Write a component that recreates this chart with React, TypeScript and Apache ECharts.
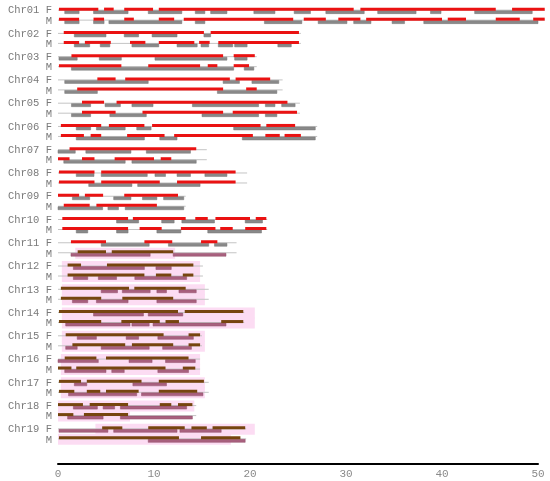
import React, { useEffect, useRef } from 'react';
import * as echarts from 'echarts';

const chromosomes = ['Chr01','Chr02','Chr03','Chr04','Chr05','Chr06','Chr07','Chr08','Chr09','Chr10','Chr11','Chr12','Chr13','Chr14','Chr15','Chr16','Chr17','Chr18','Chr19'];
const chromLengths = [50.7,25.3,20.7,23.4,25.2,27.0,15.5,19.7,13.3,21.8,18.6,15.1,15.7,19.4,15.0,14.8,15.7,14.4,19.6];

const femaleUpper: number[][][] = [
  [[0.1,4.2],[4.8,5.8],[6.9,9.9],[10.5,30.8],[31.5,45.6],[47.3,50.7]],
  [[0.6,15.2],[15.9,25.1]],
  [[1.4,17.2],[18.3,20.5]],
  [[4.1,6.0],[7.0,17.9],[18.5,22.1]],
  [[2.5,4.8],[6.1,23.9]],
  [[0.3,4.5],[5.3,9.0],[9.8,21.1],[21.7,24.7]],
  [[1.2,14.4]],
  [[0.1,3.8],[4.5,18.5]],
  [[0,2.2],[2.8,4.7],[6.9,12.5]],
  [[0.45,7.3],[7.8,13.3],[14.3,15.6],[16.4,20.0],[20.6,21.7]],
  [[1.35,5.0],[9.0,11.9],[14.9,16.6]],
  [[1.0,2.4],[5.1,14.1]],
  [[0.3,7.4],[7.95,13.3]],
  [[0.1,12.5],[13.2,19.3]],
  [[0.8,11.0],[13.6,14.8]],
  [[0.7,4.0],[5.0,13.6]],
  [[0.1,2.4],[3.0,8.7],[10.5,15.2]],
  [[0,2.6],[3.3,7.3],[10.6,11.8],[12.5,14.0]],
  [[4.6,6.7],[9.4,13.2],[13.9,15.5],[16.1,19.5]],
];
const femaleLower: number[][][] = [
  [[0.7,2.2],[3.7,7.3],[9.4,12.9],[14.3,15.3],[15.9,17.6],[20.4,22.6],[24.6,26.3],[27.9,31.9],[33.3,37.3],[38.8,39.9],[43.4,49.4]],
  [[1.7,5.0],[6.9,8.4],[9.8,12.4],[15.2,15.9]],
  [[0.1,2.0],[4.3,6.6],[10.1,17.6],[18.4,19.7]],
  [[0.7,9.4],[17.2,18.9],[20.2,23.0]],
  [[1.4,3.4],[4.9,6.5],[7.7,9.9],[14.0,20.9],[21.6,22.6],[23.3,24.7]],
  [[1.9,3.4],[4.0,7.0],[8.2,9.7],[18.3,26.8]],
  [[0,1.8],[2.9,7.6],[9.2,13.8]],
  [[1.9,3.75],[4.5,9.3],[10.1,11.2],[12.4,13.8],[15.3,17.6]],
  [[1.5,3.3],[5.8,7.6],[8.8,10.3],[11.0,13.1]],
  [[6.1,8.4],[10.8,12.1],[12.9,16.3],[19.5,21.3]],
  [[4.5,9.5],[11.5,15.7],[16.3,17.6]],
  [[1.6,9.0],[10.2,11.8]],
  [[4.5,6.2],[6.7,9.6],[10.3,11.3],[12.6,14.4]],
  [[3.7,8.9],[9.4,13.0]],
  [[2.0,4.0],[7.1,8.4],[10.4,14.1]],
  [[0,4.2],[7.4,9.8],[11.2,14.3]],
  [[1.7,3.0],[7.8,11.3]],
  [[1.6,4.1],[4.7,5.9],[6.5,13.4]],
  [[0.1,5.2],[5.8,12.4],[12.7,17.0]],
];
const maleUpper: number[][][] = [
  [[0.1,2.2],[3.7,4.8],[6.9,7.9],[10.5,12.1],[13.1,24.5],[25.6,27.9],[29.2,31.5],[32.1,40.0],[40.6,42.5],[45.6,48.1],[49.5,50.7]],
  [[0.6,2.2],[2.8,5.5],[7.5,9.1],[10.5,14.2],[14.7,15.8],[16.7,25.1]],
  [[0.1,6.6],[9.4,14.8],[15.6,16.6],[18.3,19.9]],
  [[2.0,17.2],[19.6,20.7]],
  [[2.5,6.0],[8.8,17.2],[18.2,24.9]],
  [[0.3,2.7],[3.4,4.5],[7.2,11.1],[12.1,20.3],[21.6,23.1],[23.6,25.3]],
  [[0,1.2],[2.5,3.8],[5.9,10.0],[10.7,11.8]],
  [[0.1,3.8],[4.5,10.6],[12.4,18.5]],
  [[0.6,3.3],[4.0,10.3]],
  [[0.45,7.3],[8.5,10.8],[12.8,16.4],[16.9,18.2],[19.5,21.7]],
  [[2.05,5.0],[5.6,12.0]],
  [[1.0,9.0],[10.2,11.8],[13.0,14.1]],
  [[0.3,4.5],[6.7,12.0]],
  [[0.1,4.5],[6.6,10.6],[11.2,12.6],[17.0,19.3]],
  [[1.5,7.0],[7.7,12.0],[13.6,14.8]],
  [[0,1.4],[1.9,11.2],[13.0,14.3]],
  [[0.1,1.7],[3.0,4.4],[5.0,8.4],[10.5,14.5]],
  [[0,1.6],[2.7,7.3]],
  [[0.1,12.6],[14.9,19.0]],
];
const maleLower: number[][][] = [
  [[0.7,2.2],[3.7,4.8],[5.3,12.9],[14.3,15.3],[21.5,25.4],[27.1,30.1],[30.8,32.6],[34.8,36.1],[38.1,50.0]],
  [[1.7,3.3],[4.4,5.4],[7.7,10.5],[12.4,14.5],[14.9,15.7],[16.7,18.2],[18.4,19.7],[22.9,24.3]],
  [[1.4,18.3],[19.4,20.4]],
  [[0.7,4.1],[16.6,22.8]],
  [[1.4,3.4],[5.4,9.2],[15.0,20.9],[21.6,22.8]],
  [[1.9,9.0],[10.6,12.4],[19.2,26.8]],
  [[0.6,7.0],[7.7,14.4]],
  [[3.2,7.7],[8.3,14.8]],
  [[0,4.65],[5.2,6.3],[7.0,13.1]],
  [[1.9,3.1],[6.1,7.3],[10.3,12.8],[15.6,21.2]],
  [[1.35,9.6],[12.0,17.5]],
  [[1.6,3.1],[4.2,6.1],[8.0,13.4]],
  [[1.5,3.1],[4.0,7.3],[10.3,14.4]],
  [[0.8,7.5],[7.7,9.5],[9.9,17.5]],
  [[0.8,2.0],[4.5,9.5],[10.9,13.9]],
  [[0.7,5.0],[5.6,6.9],[10.4,13.6]],
  [[1.1,8.2],[8.7,15.1]],
  [[1.0,4.7],[6.5,14.0]],
  [[9.4,19.5]],
];
const femaleHighlight: (number[] | null)[] = [null,null,null,null,null,null,null,null,null,null,null,
  [0.4,14.8],[0.4,15.3],[0.4,20.5],[0.4,15.3],[0.3,14.8],[0.3,15.3],[0,14.2],[3.9,20.5]];
const maleHighlight: (number[] | null)[] = [null,null,null,null,null,null,null,null,null,null,[1.8,12.2],
  [0.4,14.8],[0.4,15.3],[0.4,20.5],[0.4,15.3],[0.3,14.8],[0.3,15.3],[0,7.5],[0,18.0]];

const FONT = '"Liberation Mono", "DejaVu Sans Mono", monospace';

function isHighlighted(chr: number, sex: number) {
  return (sex === 0 ? femaleHighlight[chr] : maleHighlight[chr]) != null;
}

function makeRender(layer: number) {
  return (params: any, api: any) => {
    const chr = api.value(0);
    const sex = api.value(1);
    const s = api.value(2);
    const e = api.value(3);
    const p0 = api.coord([s, chr]);
    const p1 = api.coord([e, chr]);
    const rowY = p0[1] + (sex === 0 ? -5 : 5);
    const hl = isHighlighted(chr, sex);
    if (layer === 0) {
      return { type: 'rect', shape: { x: p0[0], y: rowY - 5.5, width: p1[0] - p0[0], height: 11 }, style: { fill: '#fcdcf3' } };
    }
    if (layer === 1) {
      return { type: 'line', shape: { x1: p0[0], y1: rowY - 0.5, x2: p1[0], y2: rowY - 0.5 }, style: { stroke: '#c4c4c4', lineWidth: 1 } };
    }
    if (layer === 2) {
      return { type: 'rect', shape: { x: p0[0], y: rowY, width: p1[0] - p0[0], height: 3 }, style: { fill: hl ? '#a8607e' : '#898989', stroke: hl ? '#92506c' : '#767676', lineWidth: 0.5 } };
    }
    return { type: 'rect', shape: { x: p0[0], y: rowY - 3, width: p1[0] - p0[0], height: 3 }, style: { fill: hl ? '#76450f' : '#ea1212' } };
  };
}

function buildLayer(layer: number): number[][] {
  const out: number[][] = [];
  chromosomes.forEach((_, i) => {
    if (layer === 0) {
      const f = femaleHighlight[i];
      const m = maleHighlight[i];
      if (f) out.push([i, 0, f[0], f[1]]);
      if (m) out.push([i, 1, m[0], m[1]]);
    } else if (layer === 1) {
      out.push([i, 0, 0, chromLengths[i]]);
      out.push([i, 1, 0, chromLengths[i]]);
    } else if (layer === 2) {
      femaleLower[i].forEach((seg) => out.push([i, 0, seg[0], seg[1]]));
      maleLower[i].forEach((seg) => out.push([i, 1, seg[0], seg[1]]));
    } else {
      femaleUpper[i].forEach((seg) => out.push([i, 0, seg[0], seg[1]]));
      maleUpper[i].forEach((seg) => out.push([i, 1, seg[0], seg[1]]));
    }
  });
  return out;
}

export default function App() {
  const ref = useRef<HTMLDivElement>(null);
  useEffect(() => {
    if (!ref.current) return;
    const chart = echarts.init(ref.current, null, { renderer: 'svg' });
    const series = [0, 1, 2, 3].map((layer) => ({
      type: 'custom',
      renderItem: makeRender(layer),
      data: buildLayer(layer),
      encode: { x: [2, 3], y: 0 },
      clip: false,
      z: layer + 1,
      silent: true,
    }));
    chart.setOption({
      animation: false,
      grid: { left: 58, right: 12, top: 4, bottom: 35 },
      xAxis: {
        type: 'value', min: 0, max: 50, interval: 10, offset: 18,
        axisLine: { show: true, lineStyle: { color: '#000', width: 2 } },
        axisTick: { show: false },
        splitLine: { show: false },
        axisLabel: { color: '#8a8a8a', fontFamily: FONT, fontSize: 11, margin: 4 },
      },
      yAxis: {
        type: 'category', data: chromosomes, inverse: true,
        axisLine: { show: false }, axisTick: { show: false }, splitLine: { show: false },
        axisLabel: {
          formatter: (v: string) => `${v} F\nM`,
          color: '#7a7a7a', fontFamily: FONT, fontSize: 10.5, lineHeight: 10.5, margin: 6, align: 'right',
        },
      },
      series,
    });
    return () => chart.dispose();
  }, []);
  return <div ref={ref} style={{ position: 'fixed', left: 0, top: 0, width: 550, height: 481 }} />;
}
